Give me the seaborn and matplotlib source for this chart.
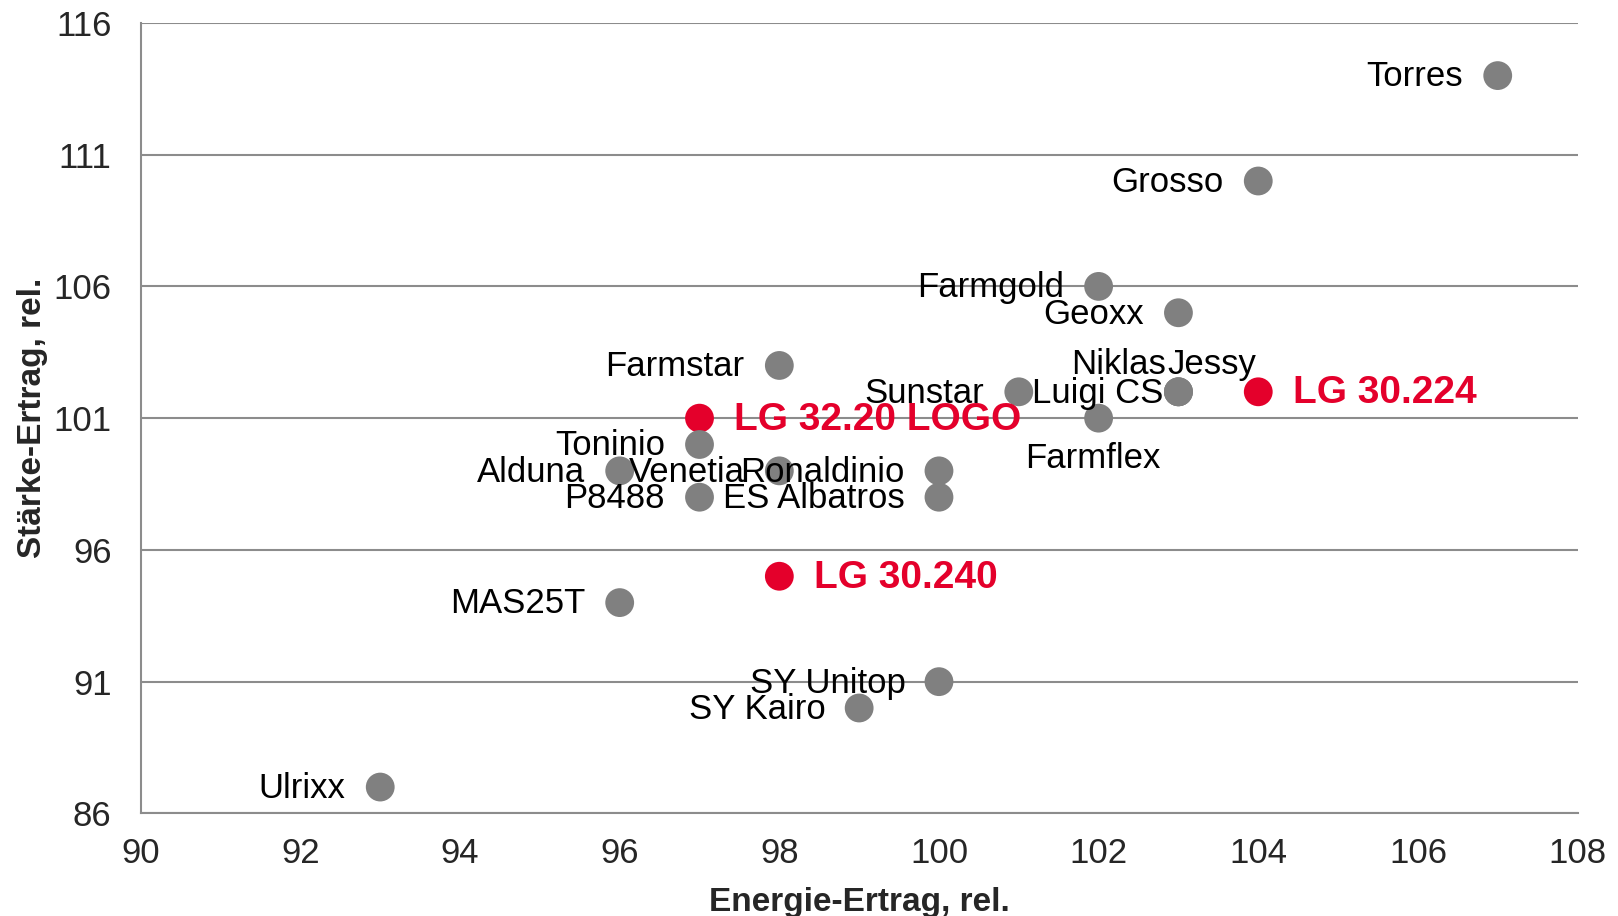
import pandas as pd
import matplotlib.pyplot as plt
import seaborn as sns

# Sorten: Energie-Ertrag (x) und Stärke-Ertrag (y), relativ
sorten = ["Torres", "Grosso", "Farmgold", "Geoxx", "Farmstar", "Sunstar", "Luigi CS",
          "Niklas", "Jessy", "Farmflex", "LG 30.224", "LG 32.20 LOGO", "Toninio",
          "Alduna", "Venetia", "Ronaldinio", "P8488", "ES Albatros", "LG 30.240",
          "MAS25T", "SY Unitop", "SY Kairo", "Ulrixx"]
energie = [107, 104, 102, 103, 98, 101, 103, 103, 103, 102, 104, 97, 97,
           96, 98, 100, 97, 100, 98, 96, 100, 99, 93]
staerke = [114, 110, 106, 105, 103, 102, 102, 102, 102, 101, 102, 101, 100,
           99, 99, 99, 98, 98, 95, 94, 91, 90, 87]
lg_sorten = ["LG 30.224", "LG 32.20 LOGO", "LG 30.240"]

x_ticks = [90, 92, 94, 96, 98, 100, 102, 104, 106, 108]
y_ticks = [86, 91, 96, 101, 106, 111, 116]

df = pd.DataFrame({"Sorte": sorten, "Energie": energie, "Staerke": staerke})
df["Gruppe"] = ["LG" if s in lg_sorten else "andere" for s in df["Sorte"]]

GREY = "#808080"
RED = "#E4002B"

sns.set_style("white")
plt.rcParams["font.family"] = ["Liberation Sans", "DejaVu Sans"]

fig = plt.figure(figsize=(16.18, 9.16), dpi=100)
ax = fig.add_axes([0.087, 0.112, 0.888, 0.863])

sns.scatterplot(data=df, x="Energie", y="Staerke", hue="Gruppe",
                palette={"andere": GREY, "LG": RED}, s=430, linewidth=0,
                legend=False, ax=ax, zorder=3)

# label placement: offset in points, horizontal alignment
pos = {
    "Torres": ((-25, -1), "right"),
    "Grosso": ((-25, -1), "right"),
    "Farmgold": ((-25, -1), "right"),
    "Geoxx": ((-25, -1), "right"),
    "Farmstar": ((-25, -1), "right"),
    "Sunstar": ((-25, -1), "right"),
    "Luigi CS": ((-11, -1), "right"),
    "Niklas": ((-9, 20), "right"),
    "Jessy": ((-8, 20), "left"),
    "Farmflex": ((-4, -29), "center"),
    "LG 30.224": ((25, -1), "left"),
    "LG 32.20 LOGO": ((25, -1), "left"),
    "Toninio": ((-25, -1), "right"),
    "Alduna": ((-25, -1), "right"),
    "Venetia": ((-25, -1), "right"),
    "Ronaldinio": ((-25, -1), "right"),
    "P8488": ((-25, -1), "right"),
    "ES Albatros": ((-25, -1), "right"),
    "LG 30.240": ((25, -1), "left"),
    "MAS25T": ((-25, -1), "right"),
    "SY Unitop": ((-24, -1), "right"),
    "SY Kairo": ((-24, -1), "right"),
    "Ulrixx": ((-25, -1), "right"),
}
for _, r in df.iterrows():
    off, ha = pos[r["Sorte"]]
    is_lg = r["Gruppe"] == "LG"
    ax.annotate(r["Sorte"], (r["Energie"], r["Staerke"]), xytext=off,
                textcoords="offset points", ha=ha, va="center",
                fontsize=28 if is_lg else 25,
                color=RED if is_lg else "black",
                fontweight="bold" if is_lg else "normal", zorder=4)

ax.set_xlim(90, 108)
ax.set_ylim(86, 116)
ax.set_xticks(x_ticks)
ax.set_yticks(y_ticks)
ax.yaxis.grid(True, color="#8c8c8c", linewidth=1.5)
ax.set_axisbelow(True)
for side in ["top", "right"]:
    ax.spines[side].set_visible(False)
for side in ["left", "bottom"]:
    ax.spines[side].set_color("#8c8c8c")
    ax.spines[side].set_linewidth(1.5)
ax.tick_params(axis="both", direction="out", length=7, width=1.5,
               color="#8c8c8c", labelsize=25)
ax.tick_params(axis="x", pad=10)
ax.tick_params(axis="y", pad=14)

ax.set_xlabel("Energie-Ertrag, rel.", fontsize=24, fontweight="bold", labelpad=12)
ax.set_ylabel("Stärke-Ertrag, rel.", fontsize=24, fontweight="bold", labelpad=4)

plt.savefig("out.png", dpi=100)
